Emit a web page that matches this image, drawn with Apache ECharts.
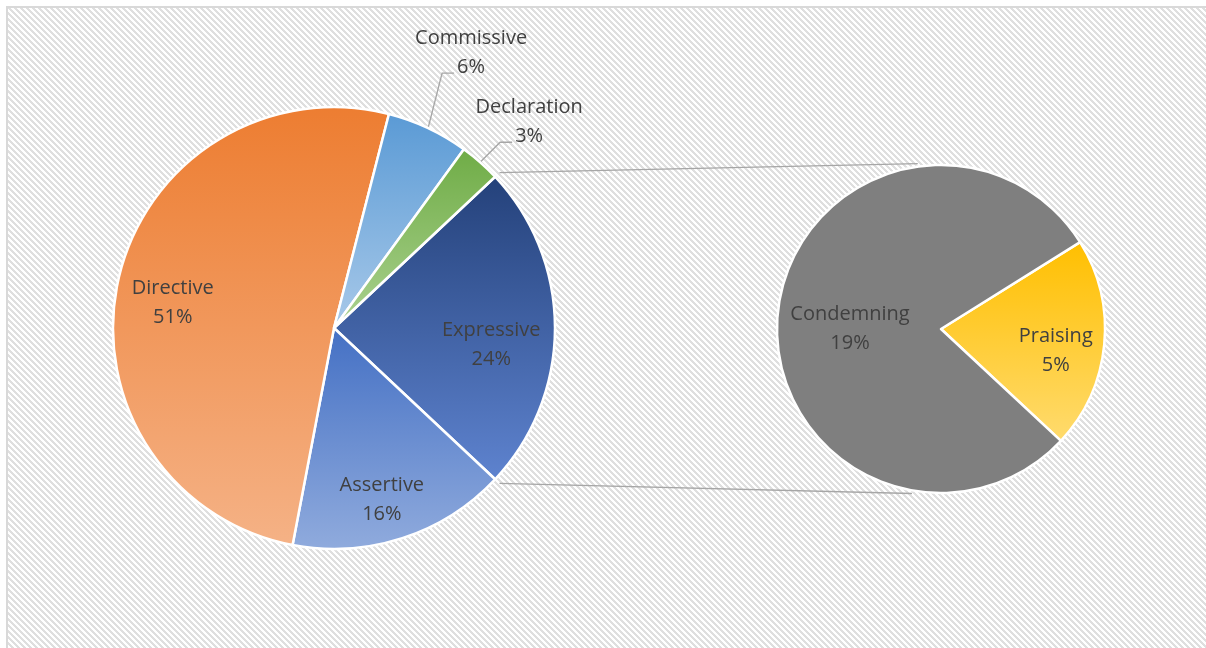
<!DOCTYPE html>
<html>
<head>
<meta charset="utf-8">
<script src="https://cdn.jsdelivr.net/npm/echarts@6/dist/echarts.min.js"></script>
<style>
  html, body { margin: 0; padding: 0; background: #fff; }
  #chart { width: 1206px; height: 648px; }
</style>
</head>
<body>
<div id="chart"></div>
<script>
// Speech-act categories of the primary pie, listed clockwise from the split-off slice
const mainNames = ['Expressive', 'Assertive', 'Directive', 'Commissive', 'Declaration'];
const mainValues = [24, 16, 51, 6, 3];

// Breakdown of the Expressive share shown in the secondary pie
const subNames = ['Praising', 'Condemning'];
const subValues = [5, 19];

// Geometry of both pies (pixels)
const MAIN = { cx: 334, cy: 328, r: 221 };
const SUB = { cx: 941, cy: 329, r: 164 };

const total = a => a.reduce((s, v) => s + v, 0);
// Split-off slice is centred on the horizontal, facing the secondary pie
const mainStart = mainValues[0] / total(mainValues) * 180;
const subStart = 32;

// Slice fills: vertical gradient from the darker top to the lighter bottom
const fills = {
  Expressive: ['#24417A', '#5E83CF'],
  Assertive: ['#4470C4', '#90ABDD'],
  Directive: ['#ED7D31', '#F5B286'],
  Commissive: ['#5A9AD5', '#A8C9E9'],
  Declaration: ['#6FAC46', '#ABD290'],
  Praising: ['#FFBF00', '#FFDB6E'],
  Condemning: ['#7F7F7F', '#7F7F7F']
};

// Inside-label placement: [fraction of radius, angular nudge in degrees]
const insideLabel = {
  Expressive: [0.715, 5.5],
  Assertive: [0.80, 2.3],
  Directive: [0.74, -3],
  Praising: [0.71, 4.4],
  Condemning: [0.555, -4]
};
const insideDrop = 2;
// Leader lines for the thin slices: rise from the rim, then a short run
const leader = {
  Commissive: { up: [14, -55], run: 12 },
  Declaration: { up: [20, -20], run: 12 }
};

const TEXT = '#404040';
const FONT = '"Open Sans", "Noto Sans", sans-serif';

// Clockwise slice angles (radians, screen orientation) for a pie starting at startCCW degrees
function sliceAngles(values, startCCW) {
  const sum = total(values);
  let a = -startCCW * Math.PI / 180;
  return values.map(v => {
    const span = v / sum * Math.PI * 2;
    const out = { a0: a, a1: a + span, mid: a + span / 2 };
    a += span;
    return out;
  });
}

function grad(name) {
  const c = fills[name];
  return {
    type: 'linear', x: 0, y: 0, x2: 0, y2: 1,
    colorStops: [{ offset: 0, color: c[0] }, { offset: 1, color: c[1] }]
  };
}

function layoutFor(geom, names, values, startCCW) {
  const ang = sliceAngles(values, startCCW);
  return function (params) {
    const i = params.dataIndex;
    const name = names[i];
    const mid = ang[i].mid;
    if (leader[name]) {
      const L = leader[name];
      const p0 = [geom.cx + geom.r * Math.cos(mid), geom.cy + geom.r * Math.sin(mid)];
      const p1 = [p0[0] + L.up[0], p0[1] + L.up[1]];
      const p2 = [p1[0] + L.run, p1[1]];
      return {
        x: p2[0] + 17, y: p2[1] + 9,
        align: 'center', verticalAlign: 'bottom',
        labelLinePoints: [p0, p1, p2]
      };
    }
    const k = insideLabel[name][0];
    const a = mid + insideLabel[name][1] * Math.PI / 180;
    return {
      x: geom.cx + k * geom.r * Math.cos(a),
      y: geom.cy + k * geom.r * Math.sin(a) + insideDrop,
      align: 'center', verticalAlign: 'middle'
    };
  };
}

function pieData(names, values) {
  return names.map((n, i) => {
    const item = { name: n, value: values[i], itemStyle: { color: grad(n) } };
    if (leader[n]) {
      item.label = { position: 'outside' };
      item.labelLine = { show: true };
    }
    return item;
  });
}

// Diagonal hatching used as the plot background
const tile = document.createElement('canvas');
tile.width = 6; tile.height = 6;
const tg = tile.getContext('2d');
tg.fillStyle = '#ffffff';
tg.fillRect(0, 0, 6, 6);
tg.fillStyle = '#dfdfdf';
for (let y = 0; y < 6; y++) {
  for (let k = 0; k < 3; k++) tg.fillRect((y + k) % 6, y, 1, 1);
}

// Connector lines from the Expressive slice edges to the secondary pie
const exp = sliceAngles(mainValues, mainStart)[0];
const rimOut = 6;
const mTop = [MAIN.cx + (MAIN.r + rimOut) * Math.cos(exp.a0), MAIN.cy + (MAIN.r + rimOut) * Math.sin(exp.a0)];
const mBot = [MAIN.cx + (MAIN.r + rimOut) * Math.cos(exp.a1), MAIN.cy + (MAIN.r + rimOut) * Math.sin(exp.a1)];
const sTopA = -98 * Math.PI / 180, sBotA = 100 * Math.PI / 180;
const sTop = [SUB.cx + (SUB.r + 3) * Math.cos(sTopA), SUB.cy + (SUB.r + 3) * Math.sin(sTopA)];
const sBot = [SUB.cx + (SUB.r + 3) * Math.cos(sBotA), SUB.cy + (SUB.r + 3) * Math.sin(sBotA)];

const baseSeries = {
  type: 'pie',
  clockwise: true,
  avoidLabelOverlap: false,
  animation: false,
  silent: true,
  itemStyle: { borderColor: '#ffffff', borderWidth: 2.5 },
  label: {
    show: true,
    position: 'inside',
    formatter: p => p.name + '\n' + p.value + '%',
    color: TEXT,
    fontFamily: FONT,
    fontSize: 20,
    lineHeight: 29,
    textBorderWidth: 0,
    textShadowBlur: 0
  },
  labelLine: {
    show: false,
    lineStyle: { color: '#A6A6A6', width: 1.3 }
  },
  emphasis: { disabled: true }
};

const chart = echarts.init(document.getElementById('chart'), null, { renderer: 'canvas' });
chart.setOption({
  backgroundColor: '#ffffff',
  animation: false,
  graphic: [
    {
      type: 'rect', z: -10, silent: true,
      shape: { x: 8, y: 8, width: 1206, height: 648 },
      style: { fill: { image: tile, repeat: 'repeat' } }
    },
    {
      type: 'polyline', z: -9, silent: true,
      shape: { points: [[7, 648], [7, 7], [1206, 7]] },
      style: { stroke: '#D9D9D9', lineWidth: 2, fill: null }
    },
    {
      type: 'line', z: -8, silent: true,
      shape: { x1: mTop[0], y1: mTop[1], x2: sTop[0], y2: sTop[1] },
      style: { stroke: '#A6A6A6', lineWidth: 1.4 }
    },
    {
      type: 'line', z: -8, silent: true,
      shape: { x1: mBot[0], y1: mBot[1], x2: sBot[0], y2: sBot[1] },
      style: { stroke: '#A6A6A6', lineWidth: 1.4 }
    }
  ],
  series: [
    Object.assign({}, baseSeries, {
      name: 'Speech acts',
      center: [MAIN.cx, MAIN.cy],
      radius: [0, MAIN.r],
      startAngle: mainStart,
      data: pieData(mainNames, mainValues),
      labelLayout: layoutFor(MAIN, mainNames, mainValues, mainStart)
    }),
    Object.assign({}, baseSeries, {
      name: 'Expressive',
      center: [SUB.cx, SUB.cy],
      radius: [0, SUB.r],
      startAngle: subStart,
      data: pieData(subNames, subValues),
      labelLayout: layoutFor(SUB, subNames, subValues, subStart)
    })
  ]
});
</script>
</body>
</html>
